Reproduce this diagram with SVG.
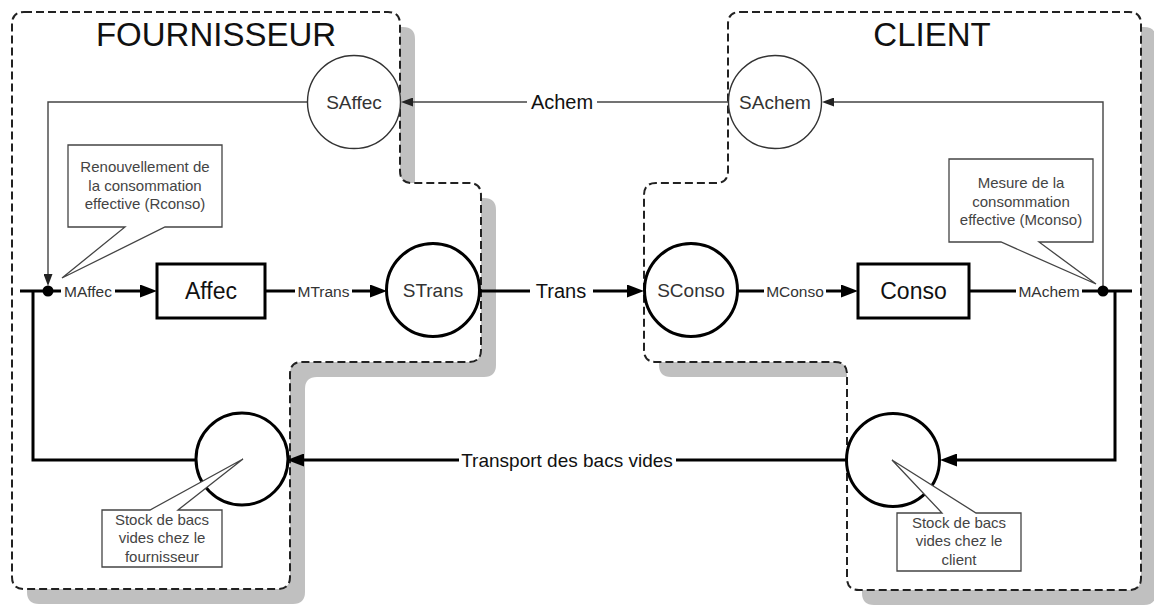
<svg xmlns="http://www.w3.org/2000/svg" width="1154" height="606" viewBox="0 0 1154 606">
<defs>
<style>
.shadow{fill:#c0c0c0;stroke:none}
.zone{fill:#fff;stroke:#222;stroke-width:2;stroke-dasharray:8 4}
.title{font-family:"Liberation Sans",Arial,sans-serif;font-size:33px;fill:#111;text-anchor:middle}
.thin{fill:none;stroke:#444;stroke-width:1.4}
.thick{fill:none;stroke:#000;stroke-width:3}
.cthin{fill:#fff;stroke:#333;stroke-width:1.4}
.cthick{fill:#fff;stroke:#000;stroke-width:3}
.box{fill:#fff;stroke:#000;stroke-width:3}
.call{fill:#fff;stroke:#444;stroke-width:1.3}
.nt{font-family:"Liberation Sans",Arial,sans-serif;font-size:19px;fill:#333;text-anchor:middle}
.bt{font-family:"Liberation Sans",Arial,sans-serif;font-size:23px;fill:#111;text-anchor:middle}
.ml{font-family:"Liberation Sans",Arial,sans-serif;font-size:15.5px;fill:#333;text-anchor:middle}
.fl{font-family:"Liberation Sans",Arial,sans-serif;font-size:20px;fill:#111;text-anchor:middle}
.ct{font-family:"Liberation Sans",Arial,sans-serif;font-size:15px;fill:#444;text-anchor:middle}
</style>
<marker id="ah" viewBox="0 0 17 13" refX="7" refY="6.5" markerWidth="17" markerHeight="13" markerUnits="userSpaceOnUse" orient="auto"><path d="M0,0 L17,6.5 L0,13 Z" fill="#000"/></marker>
<marker id="ahs" viewBox="0 0 12 9" refX="6" refY="4.5" markerWidth="12" markerHeight="9" markerUnits="userSpaceOnUse" orient="auto"><path d="M0,0 L12,4.5 L0,9 Z" fill="#222"/></marker>
</defs>
<rect width="1154" height="606" fill="#fff"/>

<g id="zone-fournisseur">
<path class="shadow" transform="translate(15,15)" d="M24,12 H388 Q400,12 400,24 V171 Q400,183 412,183 H469 Q481,183 481,195 V350 Q481,362 469,362 H302 Q290,362 290,374 V577 Q290,589 278,589 H24 Q12,589 12,577 V24 Q12,12 24,12 Z"/>
<path class="zone" d="M24,12 H388 Q400,12 400,24 V171 Q400,183 412,183 H469 Q481,183 481,195 V350 Q481,362 469,362 H302 Q290,362 290,374 V577 Q290,589 278,589 H24 Q12,589 12,577 V24 Q12,12 24,12 Z"/>
<text class="title" x="216" y="45.5">FOURNISSEUR</text>
</g>

<g id="zone-client">
<path class="shadow" transform="translate(15,15)" d="M740,12 H1129 Q1141,12 1141,24 V578 Q1141,590 1129,590 H859 Q847,590 847,578 V374 Q847,362 835,362 H656 Q644,362 644,350 V195 Q644,183 656,183 H716 Q728,183 728,171 V24 Q728,12 740,12 Z"/>
<path class="zone" d="M740,12 H1129 Q1141,12 1141,24 V578 Q1141,590 1129,590 H859 Q847,590 847,578 V374 Q847,362 835,362 H656 Q644,362 644,350 V195 Q644,183 656,183 H716 Q728,183 728,171 V24 Q728,12 740,12 Z"/>
<text class="title" x="932" y="45.5">CLIENT</text>
</g>

<g id="connectors">
<path class="thin" d="M307.5,102 H48 V280" marker-end="url(#ahs)"/>
<path class="thin" d="M1103,291 V102 H828" marker-end="url(#ahs)"/>
<path class="thin" d="M729,102 H597"/>
<path class="thin" d="M527,102 H407" marker-end="url(#ahs)"/>
<text class="fl" x="562" y="109">Achem</text>

<path class="thick" d="M20,291 H61"/>
<path class="thick" d="M115,291 H147" marker-end="url(#ah)"/>
<text class="ml" x="88" y="296.5">MAffec</text>
<path class="thick" d="M265,291 H295"/>
<path class="thick" d="M352,291 H377" marker-end="url(#ah)"/>
<text class="ml" x="323.5" y="296.5">MTrans</text>
<path class="thick" d="M480,291 H530"/>
<path class="thick" d="M593,291 H634" marker-end="url(#ah)"/>
<text class="fl" x="561" y="298">Trans</text>
<path class="thick" d="M737,291 H764"/>
<path class="thick" d="M826,291 H848" marker-end="url(#ah)"/>
<text class="ml" x="795" y="296.5">MConso</text>
<path class="thick" d="M969,291 H1016"/>
<path class="thick" d="M1082,291 H1132"/>
<text class="ml" x="1049" y="296.5">MAchem</text>

<path class="thick" d="M33,291 V460 H196"/>
<path class="thick" d="M1115,291 V460 H950" marker-end="url(#ah)"/>
<path class="thick" d="M847,460 H676"/>
<path class="thick" d="M459,460 H297" marker-end="url(#ah)"/>
<text class="fl" x="567" y="466.5" style="font-size:19px">Transport des bacs vides</text>

<circle cx="48" cy="291" r="5.5" fill="#000"/>
<circle cx="1103" cy="291" r="5.5" fill="#000"/>
</g>

<g id="node-saffec">
<circle class="cthin" cx="354" cy="102" r="46.5"/>
<text class="nt" x="354" y="109">SAffec</text>
</g>
<g id="node-sachem">
<circle class="cthin" cx="775" cy="102" r="46.5"/>
<text class="nt" x="775" y="109">SAchem</text>
</g>
<g id="node-affec">
<rect class="box" x="157" y="264" width="108" height="54"/>
<text class="bt" x="211" y="299">Affec</text>
</g>
<g id="node-strans">
<circle class="cthick" cx="433" cy="290" r="46.5"/>
<text class="nt" x="433" y="297">STrans</text>
</g>
<g id="node-sconso">
<circle class="cthick" cx="691" cy="290" r="46.5"/>
<text class="nt" x="691" y="297">SConso</text>
</g>
<g id="node-conso">
<rect class="box" x="858" y="264" width="111" height="54"/>
<text class="bt" x="913.5" y="299">Conso</text>
</g>
<g id="node-stock-fournisseur">
<circle class="cthick" cx="242" cy="459" r="46"/>
</g>
<g id="node-stock-client">
<circle class="cthick" cx="893" cy="460" r="46.5"/>
</g>

<g id="callout-rconso">
<path class="call" d="M68,145 H222 V227 H165 L62,278 L125,227 H68 Z"/>
<text class="ct" x="145" y="172">Renouvellement de</text>
<text class="ct" x="145" y="190.5">la consommation</text>
<text class="ct" x="145" y="209">effective (Rconso)</text>
</g>
<g id="callout-mconso">
<path class="call" d="M949,159 H1093 V242 H1039 L1096,284 L1001,242 H949 Z"/>
<text class="ct" x="1021" y="188">Mesure de la</text>
<text class="ct" x="1021" y="206.5">consommation</text>
<text class="ct" x="1021" y="225">effective (Mconso)</text>
</g>
<g id="callout-stock-fournisseur">
<path class="call" d="M102,510 H150 L243,459 L178,510 H222 V567 H102 Z"/>
<text class="ct" x="162" y="524.5">Stock de bacs</text>
<text class="ct" x="162" y="543">vides chez le</text>
<text class="ct" x="162" y="561.5">fournisseur</text>
</g>
<g id="callout-stock-client">
<path class="call" d="M897,513 H942 L892,460 L976,513 H1021 V571 H897 Z"/>
<text class="ct" x="959" y="527.5">Stock de bacs</text>
<text class="ct" x="959" y="546">vides chez le</text>
<text class="ct" x="959" y="564.5">client</text>
</g>
</svg>
